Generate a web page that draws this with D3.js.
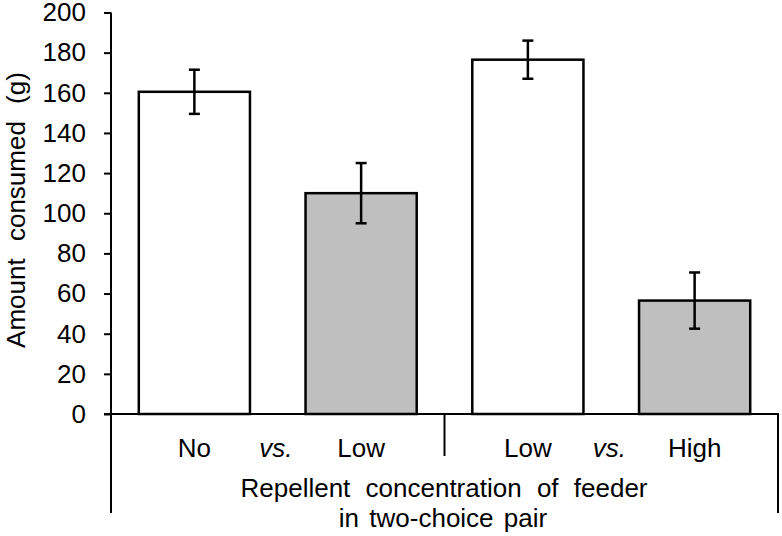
<!DOCTYPE html>
<html>
<head>
<meta charset="utf-8">
<script src="https://cdn.jsdelivr.net/npm/d3@7/dist/d3.min.js"></script>
<style>
  html, body { margin: 0; padding: 0; background: #fff; }
  text { font-family: Arial, "Liberation Sans", sans-serif; fill: #000; }
</style>
</head>
<body>
<svg id="chart" width="782" height="536"></svg>
<script>
// ---- data ----
const categories = ["No", "Low", "Low ", "High"];
const groups = ["pair1", "pair2"];
const barGroup = ["pair1", "pair1", "pair2", "pair2"];
const values = [160.5, 110, 176.5, 56.5];
const errors = [11, 15, 9.5, 14];
const fills = ["#ffffff", "#bfbfbf", "#ffffff", "#bfbfbf"];
const yTicks = [0, 20, 40, 60, 80, 100, 120, 140, 160, 180, 200];
const yTitle = "Amount consumed (g)";
const xTitle = ["Repellent concentration of feeder", "in two-choice pair"];
const vsLabel = "vs.";

// ---- layout ----
const svg = d3.select("#chart");
const mLeft = 111, mRight = 778, mTop = 12.5, mBottom = 414;
const fontSize = 26;

const y = d3.scaleLinear().domain([0, 200]).range([mBottom, mTop]);
const x = d3.scaleBand().domain(categories).range([mLeft, mRight])
  .paddingInner(1/3).paddingOuter(1/6);
const g = d3.scaleBand().domain(groups).range([mLeft, mRight]).padding(0);

// bars
svg.append("g").selectAll("rect").data(categories).join("rect")
  .attr("x", d => x(d))
  .attr("y", (d, i) => y(values[i]))
  .attr("width", x.bandwidth())
  .attr("height", (d, i) => mBottom - y(values[i]))
  .attr("fill", (d, i) => fills[i])
  .attr("stroke", "#000")
  .attr("stroke-width", 2.5);

// error bars
const eb = svg.append("g").attr("stroke", "#000").attr("stroke-width", 2.5);
categories.forEach((c, i) => {
  const cx = x(c) + x.bandwidth() / 2;
  const hi = y(values[i] + errors[i]), lo = y(values[i] - errors[i]);
  eb.append("line").attr("x1", cx).attr("x2", cx).attr("y1", hi).attr("y2", lo);
  eb.append("line").attr("x1", cx - 5.5).attr("x2", cx + 5.5).attr("y1", hi).attr("y2", hi);
  eb.append("line").attr("x1", cx - 5.5).attr("x2", cx + 5.5).attr("y1", lo).attr("y2", lo);
});

// y axis
const yAxis = d3.axisLeft(y).tickValues(yTicks).tickSize(7).tickPadding(18);
const ya = svg.append("g").attr("transform", `translate(${mLeft},0)`).call(yAxis);
ya.attr("font-size", fontSize).attr("font-family", "Arial, 'Liberation Sans', sans-serif");
ya.select(".domain").attr("stroke", "#000").attr("stroke-width", 2)
  .attr("d", `M0,${mTop}V${mBottom}`);
ya.selectAll(".tick line").attr("stroke", "#000").attr("stroke-width", 2);
ya.selectAll(".tick text").attr("font-size", fontSize).attr("fill", "#000");

// x axis baseline
svg.append("line").attr("x1", mLeft - 7).attr("x2", mRight + 1)
  .attr("y1", mBottom).attr("y2", mBottom)
  .attr("stroke", "#000").attr("stroke-width", 2);

// group separators
const sep = svg.append("g").attr("stroke", "#000").attr("stroke-width", 2);
sep.append("line").attr("x1", g("pair1")).attr("x2", g("pair1")).attr("y1", mBottom).attr("y2", 513);
sep.append("line").attr("x1", g("pair2")).attr("x2", g("pair2")).attr("y1", mBottom).attr("y2", 456);
sep.append("line").attr("x1", mRight).attr("x2", mRight).attr("y1", mBottom).attr("y2", 513);

// category labels
svg.append("g").selectAll("text").data(categories).join("text")
  .attr("x", d => x(d) + x.bandwidth() / 2)
  .attr("y", 457)
  .attr("text-anchor", "middle")
  .attr("font-size", fontSize)
  .text(d => d.trim());

// vs. labels
groups.forEach((gr) => {
  const idx = barGroup.map((b, i) => b === gr ? i : -1).filter(i => i >= 0);
  const c1 = x(categories[idx[0]]) + x.bandwidth() / 2;
  const c2 = x(categories[idx[1]]) + x.bandwidth() / 2;
  svg.append("text").attr("x", (c1 + c2) / 2 - 2).attr("y", 457)
    .attr("text-anchor", "middle").attr("font-size", fontSize)
    .attr("font-style", "italic").text(vsLabel);
});

// x title
svg.append("text").attr("x", 444).attr("y", 497)
  .attr("text-anchor", "middle").attr("font-size", fontSize)
  .attr("word-spacing", 8).text(xTitle[0]);
svg.append("text").attr("x", 443).attr("y", 527)
  .attr("text-anchor", "middle").attr("font-size", fontSize)
  .attr("word-spacing", 3).text(xTitle[1]);

// y title
svg.append("text")
  .attr("transform", `translate(25,210) rotate(-90)`)
  .attr("text-anchor", "middle").attr("font-size", fontSize)
  .attr("word-spacing", 10).text(yTitle);
</script>
</body>
</html>
